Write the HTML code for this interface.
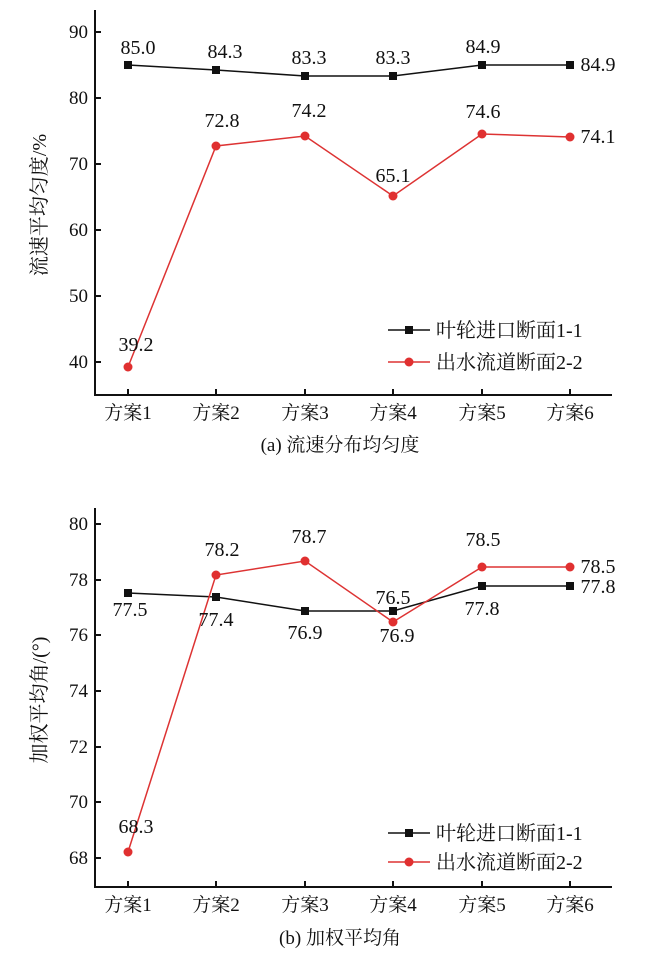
<!DOCTYPE html>
<html><head><meta charset="utf-8"><style>
html,body{margin:0;padding:0;background:#fff;}
svg text{font-family:"Liberation Serif","Noto Serif CJK SC",serif;fill:#111;}
</style></head><body>
<svg width="650" height="953" viewBox="0 0 650 953" xmlns="http://www.w3.org/2000/svg">
<!-- TOP CHART -->
<g stroke="#111" stroke-width="2" fill="none">
<line x1="95" y1="10" x2="95" y2="395"/>
<line x1="94" y1="395" x2="612" y2="395"/>
</g>
<g stroke="#111" stroke-width="2">
<line x1="95" y1="32" x2="101" y2="32"/><line x1="95" y1="98" x2="101" y2="98"/><line x1="95" y1="164" x2="101" y2="164"/><line x1="95" y1="230" x2="101" y2="230"/><line x1="95" y1="296" x2="101" y2="296"/><line x1="95" y1="362" x2="101" y2="362"/>
<line x1="128" y1="395" x2="128" y2="389"/><line x1="216" y1="395" x2="216" y2="389"/><line x1="305" y1="395" x2="305" y2="389"/><line x1="393" y1="395" x2="393" y2="389"/><line x1="482" y1="395" x2="482" y2="389"/><line x1="570" y1="395" x2="570" y2="389"/>
</g>
<g font-size="19" text-anchor="end">
<text x="88" y="38">90</text><text x="88" y="104">80</text><text x="88" y="170">70</text><text x="88" y="236">60</text><text x="88" y="302">50</text><text x="88" y="368">40</text>
</g>
<g font-size="19" text-anchor="middle">
<text x="128" y="419">方案1</text><text x="216" y="419">方案2</text><text x="305" y="419">方案3</text><text x="393" y="419">方案4</text><text x="482" y="419">方案5</text><text x="570" y="419">方案6</text>
<text x="340" y="451">(a) 流速分布均匀度</text>
</g>
<text font-size="20" text-anchor="middle" transform="translate(46,205) rotate(-90)">流速平均匀度/%</text>
<polyline fill="none" stroke="#111" stroke-width="1.5" points="128,65 216,70 305,76 393,76 482,65 570,65"/>
<g fill="#111"><rect x="124" y="61" width="8" height="8"/><rect x="212" y="66" width="8" height="8"/><rect x="301" y="72" width="8" height="8"/><rect x="389" y="72" width="8" height="8"/><rect x="478" y="61" width="8" height="8"/><rect x="566" y="61" width="8" height="8"/></g>
<polyline fill="none" stroke="#d33" stroke-width="1.5" points="128,367 216,146 305,136 393,196 482,134 570,137"/>
<g fill="#e03030"><circle cx="128" cy="367" r="4.5"/><circle cx="216" cy="146" r="4.5"/><circle cx="305" cy="136" r="4.5"/><circle cx="393" cy="196" r="4.5"/><circle cx="482" cy="134" r="4.5"/><circle cx="570" cy="137" r="4.5"/></g>
<g font-size="20" text-anchor="middle">
<text x="138" y="54">85.0</text><text x="225" y="58">84.3</text><text x="309" y="64">83.3</text><text x="393" y="64">83.3</text><text x="483" y="53">84.9</text><text x="598" y="71">84.9</text>
<text x="222" y="127">72.8</text><text x="309" y="117">74.2</text><text x="393" y="182">65.1</text><text x="483" y="118">74.6</text><text x="598" y="143">74.1</text><text x="136" y="351">39.2</text>
</g>
<line x1="388" y1="330" x2="430" y2="330" stroke="#111" stroke-width="1.5"/><rect x="405" y="326" width="8" height="8" fill="#111"/>
<line x1="388" y1="362" x2="430" y2="362" stroke="#d33" stroke-width="1.5"/><circle cx="409" cy="362" r="4.5" fill="#e03030"/>
<text x="436" y="337" font-size="20">叶轮进口断面1-1</text>
<text x="436" y="369" font-size="20">出水流道断面2-2</text>

<!-- BOTTOM CHART -->
<g stroke="#111" stroke-width="2" fill="none">
<line x1="95" y1="508" x2="95" y2="887"/>
<line x1="94" y1="887" x2="612" y2="887"/>
</g>
<g stroke="#111" stroke-width="2">
<line x1="95" y1="524" x2="101" y2="524"/><line x1="95" y1="580" x2="101" y2="580"/><line x1="95" y1="635" x2="101" y2="635"/><line x1="95" y1="691" x2="101" y2="691"/><line x1="95" y1="747" x2="101" y2="747"/><line x1="95" y1="802" x2="101" y2="802"/><line x1="95" y1="858" x2="101" y2="858"/>
<line x1="128" y1="887" x2="128" y2="881"/><line x1="216" y1="887" x2="216" y2="881"/><line x1="305" y1="887" x2="305" y2="881"/><line x1="393" y1="887" x2="393" y2="881"/><line x1="482" y1="887" x2="482" y2="881"/><line x1="570" y1="887" x2="570" y2="881"/>
</g>
<g font-size="19" text-anchor="end">
<text x="88" y="530">80</text><text x="88" y="586">78</text><text x="88" y="641">76</text><text x="88" y="697">74</text><text x="88" y="753">72</text><text x="88" y="808">70</text><text x="88" y="864">68</text>
</g>
<g font-size="19" text-anchor="middle">
<text x="128" y="911">方案1</text><text x="216" y="911">方案2</text><text x="305" y="911">方案3</text><text x="393" y="911">方案4</text><text x="482" y="911">方案5</text><text x="570" y="911">方案6</text>
<text x="340" y="944">(b) 加权平均角</text>
</g>
<text font-size="20" text-anchor="middle" transform="translate(46,700) rotate(-90)">加权平均角/(°)</text>
<polyline fill="none" stroke="#111" stroke-width="1.5" points="128,593 216,597 305,611 393,611 482,586 570,586"/>
<g fill="#111"><rect x="124" y="589" width="8" height="8"/><rect x="212" y="593" width="8" height="8"/><rect x="301" y="607" width="8" height="8"/><rect x="389" y="607" width="8" height="8"/><rect x="478" y="582" width="8" height="8"/><rect x="566" y="582" width="8" height="8"/></g>
<polyline fill="none" stroke="#d33" stroke-width="1.5" points="128,852 216,575 305,561 393,622 482,567 570,567"/>
<g fill="#e03030"><circle cx="128" cy="852" r="4.5"/><circle cx="216" cy="575" r="4.5"/><circle cx="305" cy="561" r="4.5"/><circle cx="393" cy="622" r="4.5"/><circle cx="482" cy="567" r="4.5"/><circle cx="570" cy="567" r="4.5"/></g>
<g font-size="20" text-anchor="middle">
<text x="130" y="616">77.5</text><text x="216" y="626">77.4</text><text x="305" y="639">76.9</text><text x="397" y="642">76.9</text><text x="482" y="615">77.8</text><text x="598" y="593">77.8</text>
<text x="222" y="556">78.2</text><text x="309" y="543">78.7</text><text x="393" y="604">76.5</text><text x="483" y="546">78.5</text><text x="598" y="573">78.5</text><text x="136" y="833">68.3</text>
</g>
<line x1="388" y1="833" x2="430" y2="833" stroke="#111" stroke-width="1.5"/><rect x="405" y="829" width="8" height="8" fill="#111"/>
<line x1="388" y1="862" x2="430" y2="862" stroke="#d33" stroke-width="1.5"/><circle cx="409" cy="862" r="4.5" fill="#e03030"/>
<text x="436" y="840" font-size="20">叶轮进口断面1-1</text>
<text x="436" y="869" font-size="20">出水流道断面2-2</text>
</svg>
</body></html>
